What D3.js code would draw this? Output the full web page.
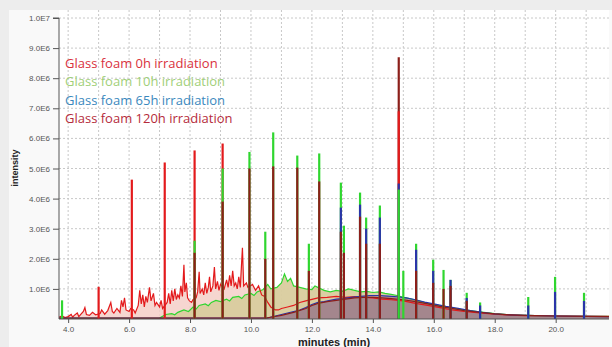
<!DOCTYPE html>
<html><head><meta charset="utf-8">
<script src="https://cdn.jsdelivr.net/npm/d3@7"></script>
<style>
html,body{margin:0;padding:0;background:#ededed;}
svg{display:block;}
</style></head>
<body>
<svg id="c" width="612" height="347"></svg>
<script>
// ---- data (intensity in units of 1E6 counts, time in minutes) ----
const seriesNames = ["Glass foam 0h irradiation","Glass foam 10h irradiation","Glass foam 65h irradiation","Glass foam 120h irradiation"];
const xTickValues = [4,6,8,10,12,14,16,18,20];
const xTickLabels = ["4.0","6.0","8.0","10.0","12.0","14.0","16.0","18.0","20.0"];
const yTickValues = [1,2,3,4,5,6,7,8,9,10];
const yTickLabels = ["1.0E6","2.0E6","3.0E6","4.0E6","5.0E6","6.0E6","7.0E6","8.0E6","9.0E6","1.0E7"];

const base0h = [[3.7,0.06],[3.8,0.10],[3.9,0.05],[4.0,0.08],[4.1,0.15],[4.15,0.06],[4.2,0.12],[4.3,0.20],[4.35,0.08],[4.4,0.14],[4.5,0.25],[4.55,0.38],[4.6,0.15],[4.7,0.12],[4.8,0.22],[4.9,0.14],[5.05,0.18],[5.1,0.30],[5.2,0.16],[5.3,0.28],[5.4,0.55],[5.45,0.25],[5.5,0.20],[5.6,0.35],[5.7,0.22],[5.75,0.62],[5.8,0.40],[5.85,0.70],[5.9,0.30],[6.0,0.25],[6.05,0.35],[6.15,0.30],[6.2,0.20],[6.3,0.45],[6.35,0.95],[6.4,0.50],[6.45,0.80],[6.5,0.40],[6.55,0.75],[6.6,0.55],[6.67,1.05],[6.72,0.60],[6.8,0.85],[6.85,0.45],[6.9,0.55],[7.0,0.40],[7.05,0.62],[7.1,0.35],[7.25,0.55],[7.3,0.85],[7.35,0.50],[7.4,0.95],[7.45,0.60],[7.5,1.00],[7.55,0.65],[7.6,0.80],[7.65,0.70],[7.7,1.10],[7.75,0.75],[7.8,1.80],[7.83,0.90],[7.88,1.20],[7.92,0.70],[7.98,0.60],[8.05,0.55],[8.1,0.65],[8.2,0.70],[8.25,0.90],[8.3,1.57],[8.33,0.85],[8.4,1.00],[8.45,0.80],[8.5,1.20],[8.55,0.85],[8.6,1.05],[8.64,1.40],[8.68,0.90],[8.75,1.10],[8.8,1.73],[8.84,1.00],[8.9,1.25],[8.95,0.95],[9.0,1.15],[9.12,1.00],[9.2,1.30],[9.25,1.05],[9.3,1.45],[9.35,1.10],[9.4,1.60],[9.45,1.10],[9.5,1.20],[9.55,1.00],[9.6,1.40],[9.65,1.05],[9.72,2.37],[9.76,1.10],[9.85,1.20],[9.9,1.05],[10.05,1.15],[10.15,0.95],[10.25,1.10],[10.35,0.80],[10.45,0.75],[10.55,0.55],[10.65,0.40],[10.8,0.30],[10.9,0.30],[11.0,0.35],[11.2,0.40],[11.4,0.45],[11.6,0.55],[11.8,0.60],[12.0,0.65],[12.2,0.70],[12.5,0.72],[12.8,0.75],[13.1,0.72],[13.4,0.74],[13.7,0.72],[14.0,0.70],[14.3,0.66],[14.6,0.64],[15.0,0.60],[15.4,0.52],[15.8,0.45],[16.2,0.38],[16.6,0.30],[17.0,0.25],[17.5,0.20],[18.0,0.16],[18.5,0.13],[19.0,0.11],[20.0,0.10],[21.0,0.09],[21.75,0.09]];

const base10h = [[3.7,0.02],[4.0,0.02],[5.0,0.02],[6.0,0.02],[7.0,0.03],[7.2,0.15],[7.4,0.18],[7.5,0.14],[7.6,0.22],[7.8,0.30],[7.95,0.25],[8.1,0.40],[8.2,0.33],[8.3,0.45],[8.5,0.50],[8.6,0.44],[8.7,0.55],[8.85,0.62],[9.0,0.58],[9.2,0.66],[9.3,0.60],[9.4,0.72],[9.6,0.75],[9.7,0.68],[9.8,0.80],[10.0,0.85],[10.1,0.78],[10.2,0.90],[10.4,0.98],[10.55,1.15],[10.65,1.00],[10.85,1.05],[11.0,1.20],[11.1,1.50],[11.2,1.25],[11.3,1.35],[11.4,1.10],[11.6,1.05],[11.8,1.00],[12.0,0.98],[12.1,1.10],[12.4,0.95],[12.6,0.90],[12.8,0.95],[13.0,0.92],[13.2,1.00],[13.4,0.95],[13.6,0.90],[13.8,0.92],[14.0,0.88],[14.2,0.90],[14.4,0.85],[14.6,0.82],[14.8,0.78],[15.0,0.72],[15.2,0.68],[15.5,0.60],[15.8,0.52],[16.1,0.46],[16.5,0.38],[17.0,0.30],[17.5,0.24],[18.0,0.18],[18.5,0.14],[19.0,0.12],[20.0,0.10],[21.0,0.09],[21.75,0.09]];

const base65h = [[3.7,0.03],[6.0,0.03],[9.0,0.03],[10.5,0.03],[10.6,0.05],[11.0,0.15],[11.4,0.25],[11.6,0.30],[11.8,0.38],[12.0,0.48],[12.2,0.55],[12.4,0.58],[12.6,0.62],[12.8,0.66],[13.0,0.68],[13.3,0.72],[13.6,0.75],[13.9,0.78],[14.2,0.78],[14.5,0.76],[14.8,0.74],[15.1,0.70],[15.4,0.64],[15.7,0.56],[16.0,0.50],[16.4,0.42],[16.8,0.35],[17.2,0.28],[17.6,0.22],[18.0,0.17],[18.5,0.14],[19.0,0.12],[20.0,0.10],[21.0,0.09],[21.75,0.08]];

const base120h = [[3.7,0.03],[6.0,0.03],[9.0,0.03],[10.5,0.03],[10.6,0.05],[11.0,0.12],[11.4,0.22],[11.8,0.35],[12.0,0.45],[12.2,0.52],[12.5,0.58],[12.8,0.62],[13.1,0.66],[13.4,0.70],[13.7,0.72],[14.0,0.72],[14.3,0.70],[14.6,0.68],[15.0,0.64],[15.4,0.58],[15.8,0.50],[16.2,0.42],[16.6,0.35],[17.0,0.28],[17.5,0.22],[18.0,0.17],[18.5,0.14],[19.0,0.12],[20.0,0.10],[21.0,0.09],[21.75,0.08]];

const peaks0h = [[5.0,1.07],[6.09,4.63],[7.17,5.2],[8.15,5.6],[9.07,5.83],[14.85,6.9]];
const peaks10h = [[3.8,0.62],[8.15,2.6],[9.07,5.0],[9.95,5.55],[10.47,2.9],[10.73,6.2],[11.52,5.43],[11.9,2.5],[12.24,5.5],[12.95,4.53],[13.05,3.1],[13.58,4.2],[13.78,3.37],[14.23,3.77],[14.85,4.3],[15.0,1.6],[15.42,2.5],[15.98,1.97],[16.32,1.63],[16.55,1.3],[17.08,0.87],[17.52,0.55],[19.1,0.73],[19.98,1.4],[20.93,0.87]];
const peaks65h = [[12.95,3.7],[13.58,3.8],[13.78,3.0],[14.23,3.37],[14.85,4.5],[15.42,2.3],[15.98,1.6],[16.55,1.3],[17.08,0.7],[17.52,0.45],[19.1,0.45],[19.98,0.9],[20.93,0.6]];
const peaks120h = [[8.15,2.2],[9.07,3.9],[9.95,5.0],[10.47,2.0],[10.73,5.07],[11.52,5.03],[11.9,1.6],[12.24,4.57],[12.95,2.9],[13.05,2.2],[13.58,3.4],[13.78,2.5],[14.23,2.5],[14.85,8.7],[15.42,1.6],[15.98,1.2],[16.32,1.0],[16.55,1.1],[17.08,0.6]];

// ---- drawing ----
const svg = d3.select("#c");
const W = 612, H = 347;
const plot = {l:59, r:609, t:10, b:319};
const x = d3.scaleLinear().domain([3.7,21.75]).range([plot.l, plot.r]);
const y = d3.scaleLinear().domain([0,10]).range([plot.b, 18]);

svg.append("rect").attr("x",9).attr("y",10).attr("width",W-9).attr("height",H-10).attr("fill","#f9f9f9");
svg.append("rect").attr("x",plot.l).attr("y",plot.t).attr("width",plot.r-plot.l).attr("height",plot.b-plot.t).attr("fill","#ffffff");

svg.append("defs").append("clipPath").attr("id","clip").append("rect")
  .attr("x",plot.l).attr("y",plot.t).attr("width",plot.r-plot.l).attr("height",plot.b-plot.t);

// grid
const grid = svg.append("g").attr("stroke","#c8c8c8").attr("stroke-dasharray","2,2").attr("stroke-width",1);
d3.range(4,22,1).forEach(v=>{
  grid.append("line").attr("x1",x(v)).attr("x2",x(v)).attr("y1",plot.t).attr("y2",plot.b);
});
yTickValues.forEach(v=>{
  grid.append("line").attr("x1",plot.l).attr("x2",plot.r).attr("y1",y(v)).attr("y2",y(v));
});

const g = svg.append("g").attr("clip-path","url(#clip)");
const area = d3.area().x(d=>x(d[0])).y0(y(0)).y1(d=>y(d[1]));
const line = d3.line().x(d=>x(d[0])).y(d=>y(d[1]));

g.append("path").datum(base0h).attr("d",area).attr("fill","#f4cfc8").attr("opacity",0.85);
g.append("path").datum(base10h).attr("d",area).attr("fill","#d9cc9e").attr("opacity",0.95);
g.append("path").datum(base65h).attr("d",area).attr("fill","#a88893").attr("opacity",0.9);
g.append("path").datum(base120h).attr("d",area).attr("fill","#9c8089").attr("opacity",0.6);

const cols = ["#e31a1c","#2fd62f","#2a35a8","#8c1f1a"];
[base10h, base0h, base65h, base120h].forEach((d,i)=>{
  const c = [cols[1],cols[0],cols[2],cols[3]][i];
  g.append("path").datum(d).attr("d",line).attr("fill","none").attr("stroke",c).attr("stroke-width",1.2);
});

const allPeaks = [];
[peaks0h,peaks10h,peaks65h,peaks120h].forEach((arr,si)=>arr.forEach(p=>allPeaks.push({t:p[0],h:p[1],c:cols[si]})));
allPeaks.sort((a,b)=>b.h-a.h);
g.selectAll("line.pk").data(allPeaks).enter().append("line").attr("class","pk")
  .attr("x1",d=>x(d.t)).attr("x2",d=>x(d.t)).attr("y1",y(0)).attr("y2",d=>y(d.h))
  .attr("stroke",d=>d.c).attr("stroke-width",2.2);

// axes
const yAxis = d3.axisLeft(y).tickValues(yTickValues).tickSize(6).tickPadding(3)
  .tickFormat((d,i)=>yTickLabels[i]);
const ya = svg.append("g").attr("transform",`translate(${plot.l},0)`).call(yAxis);
ya.select(".domain").attr("stroke","#555").attr("d",`M-6,${y(10)}H0V${plot.b}`);
ya.selectAll("line").attr("stroke","#555");
ya.selectAll("text").attr("font-family","Liberation Sans, Arial, sans-serif").attr("font-size",8).attr("fill","#555");

const xAxis = d3.axisBottom(x).tickValues(xTickValues).tickSize(4).tickPadding(3)
  .tickFormat((d,i)=>xTickLabels[i]);
const xa = svg.append("g").attr("transform",`translate(0,${plot.b})`).call(xAxis);
xa.select(".domain").attr("stroke","#555").attr("d",`M${plot.l},0H${plot.r}`);
xa.selectAll("line").attr("stroke","#555");
xa.selectAll("text").attr("font-family","Liberation Sans, Arial, sans-serif").attr("font-size",8).attr("fill","#555");

svg.append("text").attr("x",334).attr("y",346).attr("text-anchor","middle")
  .attr("font-family","Liberation Sans, Arial, sans-serif").attr("font-weight","bold").attr("font-size",11).attr("fill","#222")
  .text("minutes (min)");
svg.append("text").attr("transform","translate(18,168) rotate(-90)").attr("text-anchor","middle")
  .attr("font-family","Liberation Sans, Arial, sans-serif").attr("font-weight","bold").attr("font-size",9).attr("fill","#222")
  .text("intensity");

// legend
const legCols = ["#d9313d","#9fcf78","#3a88bd","#b52b3b"];
seriesNames.forEach((n,i)=>{
  svg.append("text").attr("x",65).attr("y",68+i*18.4)
    .attr("font-family","'Open Sans', sans-serif").attr("font-size",13).attr("fill",legCols[i]).text(n);
});
</script>
</body></html>
